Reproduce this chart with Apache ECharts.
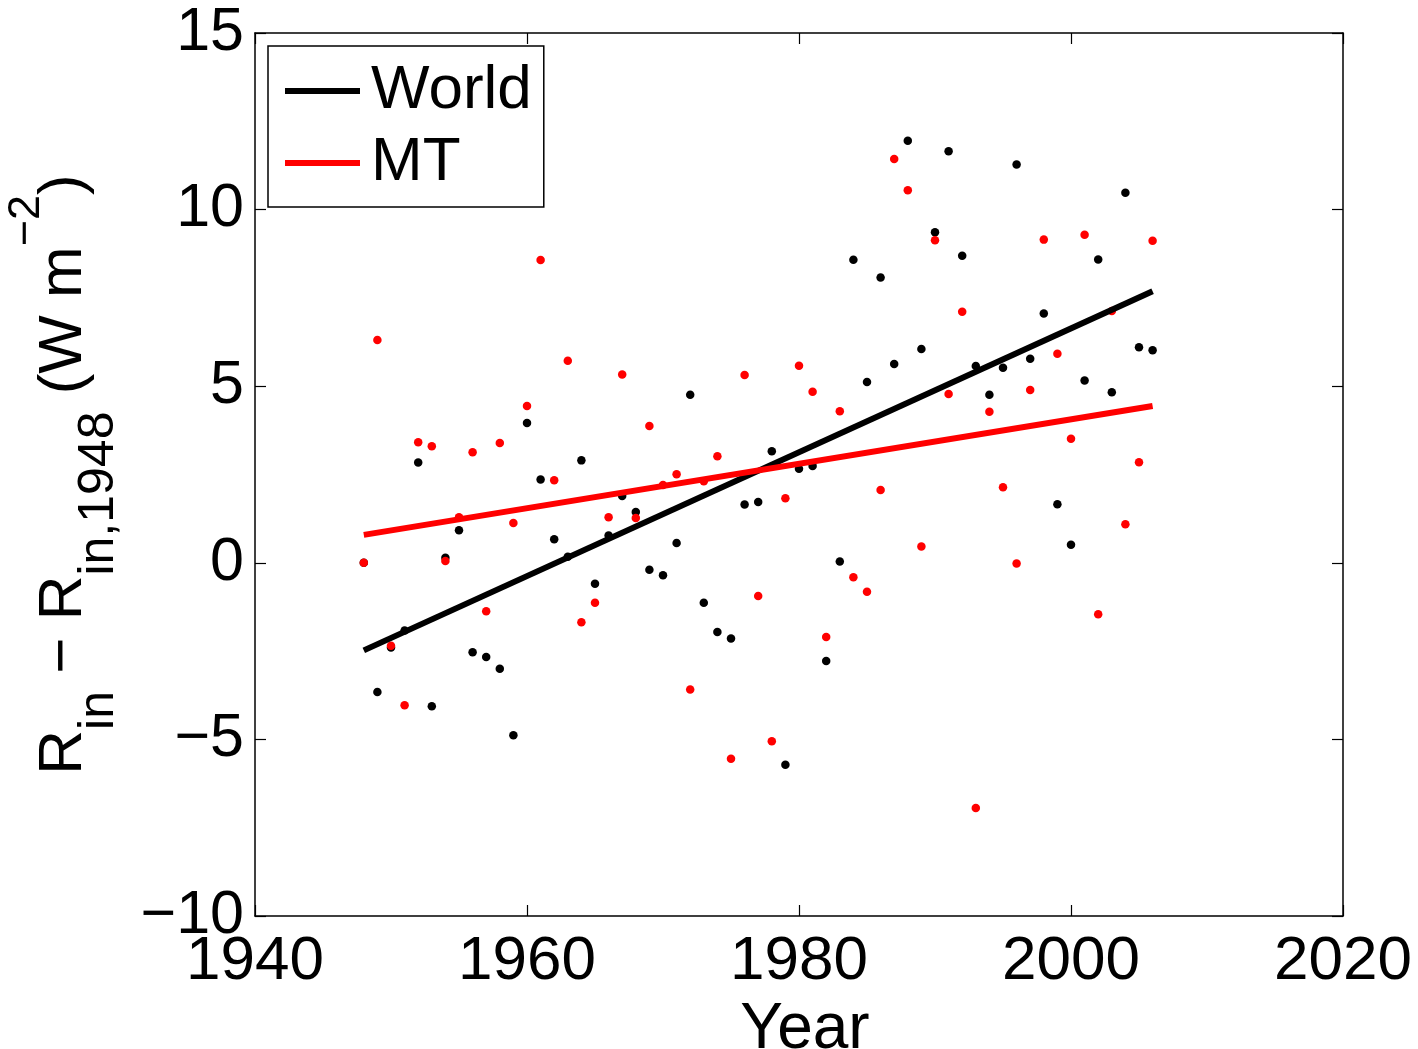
<!DOCTYPE html>
<html><head><meta charset="utf-8">
<script src="https://cdn.jsdelivr.net/npm/echarts@6/dist/echarts.min.js"></script>
<style>html,body{margin:0;padding:0;background:#fff}#c{width:1418px;height:1049px}</style>
</head><body><div id="c"></div>
<script>
const years = [1948,1949,1950,1951,1952,1953,1954,1955,1956,1957,1958,1959,1960,1961,1962,1963,1964,1965,1966,1967,1968,1969,1970,1971,1972,1973,1974,1975,1976,1977,1978,1979,1980,1981,1982,1983,1984,1985,1986,1987,1988,1989,1990,1991,1992,1993,1994,1995,1996,1997,1998,1999,2000,2001,2002,2003,2004,2005,2006];
const worldValues = [0,-3.66,-2.4,-1.92,2.84,-4.06,0.14,0.92,-2.53,-2.67,-3.0,-4.88,3.96,2.36,0.67,0.17,2.90,-0.59,0.77,1.89,1.44,-0.2,-0.35,0.56,4.76,-1.13,-1.96,-2.14,1.65,1.72,3.16,-5.72,2.66,2.74,-2.78,0.04,8.58,5.12,8.08,5.63,11.95,6.05,9.36,11.65,8.69,5.57,4.76,5.52,11.28,5.78,7.06,1.66,0.51,5.16,8.59,4.83,10.48,6.10,6.02];
const mtValues = [0,6.31,-2.35,-4.03,3.41,3.30,0.05,1.29,3.13,-1.37,3.39,1.13,4.44,8.57,2.34,5.72,-1.68,-1.13,1.29,5.33,1.27,3.87,2.2,2.51,-3.59,2.31,3.02,-5.55,5.32,-0.94,-5.05,1.83,5.58,4.84,-2.1,4.29,-0.41,-0.82,2.06,11.43,10.55,0.46,9.13,4.78,7.11,-6.94,4.28,2.14,-0.02,4.89,9.15,5.92,3.51,9.29,-1.46,7.13,1.09,2.85,9.12];
const trendYears = [1948, 2006];
const worldTrend = [-2.48, 7.69];
const mtTrend = [0.79, 4.44];
const seriesNames = ['World', 'MT'];
const xAxisTitle = 'Year';

const FONT = "'Liberation Sans', Arial, Helvetica, sans-serif";
const pair = (xs, ys) => xs.map((x, i) => [x, ys[i]]);
const minusFmt = v => String(v).replace('-', '\u2212');

const axisLine = { show: true, onZero: false, lineStyle: { color: '#000', width: 1.5 } };
const axisTick = { show: true, inside: true, length: 11, lineStyle: { color: '#000', width: 1.2 } };

const chart = echarts.init(document.getElementById('c'), null, { renderer: 'canvas' });
chart.setOption({
  animation: false,
  backgroundColor: '#fff',
  grid: { left: 255, top: 33, width: 1088, height: 883, containLabel: false, outerBoundsMode: 'none' },
  xAxis: [
    { type: 'value', min: 1940, max: 2020, interval: 20, position: 'bottom',
      axisLine, axisTick, splitLine: { show: false },
      axisLabel: { fontSize: 62, color: '#000', fontFamily: FONT, margin: 15, lineHeight: 62, formatter: v => String(v) },
      name: xAxisTitle, nameLocation: 'middle', nameGap: 69,
      nameTextStyle: { fontSize: 64, color: '#000', fontFamily: FONT, lineHeight: 64, padding: [0, 0, 0, 12] } },
    { type: 'value', min: 1940, max: 2020, interval: 20, position: 'top',
      axisLine, axisTick, splitLine: { show: false }, axisLabel: { show: false } }
  ],
  yAxis: [
    { type: 'value', min: -10, max: 15, interval: 5, position: 'left',
      axisLine, axisTick, splitLine: { show: false },
      axisLabel: { fontSize: 61, color: '#000', fontFamily: FONT, margin: 11, formatter: minusFmt },
      name: '{m|R}{sub|in}{m| \u2212 R}{sub|in,1948}{m| (W m}{sup|\u22122}{m|)}',
      nameLocation: 'middle', nameRotate: 90, nameGap: 131,
      nameTextStyle: {
        color: '#000', fontFamily: FONT, fontSize: 62,
        rich: {
          m: { fontSize: 62, lineHeight: 120, verticalAlign: 'middle', fontFamily: FONT, color: '#000' },
          sub: { fontSize: 50, lineHeight: 47, verticalAlign: 'bottom', fontFamily: FONT, color: '#000' },
          sup: { fontSize: 45, lineHeight: 81, verticalAlign: 'top', fontFamily: FONT, color: '#000' }
        }
      } },
    { type: 'value', min: -10, max: 15, interval: 5, position: 'right',
      axisLine, axisTick, splitLine: { show: false }, axisLabel: { show: false } }
  ],
  legend: {
    data: seriesNames, orient: 'vertical', left: 268, top: 46,
    icon: 'rect', itemWidth: 75, itemHeight: 6, itemGap: 10,
    padding: [14, 12, 13, 17],
    borderColor: '#000', borderWidth: 1.5, backgroundColor: '#fff',
    textStyle: { fontSize: 62, color: '#000', fontFamily: FONT, lineHeight: 60, padding: [0, 0, 0, 6] },
    selectedMode: false
  },
  series: [
    { name: seriesNames[0], type: 'line', data: pair(trendYears, worldTrend), symbol: 'none',
      lineStyle: { color: '#000', width: 6 }, itemStyle: { color: '#000' } },
    { name: seriesNames[1], type: 'line', data: pair(trendYears, mtTrend), symbol: 'none',
      lineStyle: { color: '#ff0000', width: 6 }, itemStyle: { color: '#ff0000' } },
    { name: 'World points', type: 'scatter', data: pair(years, worldValues), symbolSize: 8.5,
      itemStyle: { color: '#000', opacity: 1 } },
    { name: 'MT points', type: 'scatter', data: pair(years, mtValues), symbolSize: 8.5,
      itemStyle: { color: '#ff0000', opacity: 1 } }
  ]
});
</script></body></html>
